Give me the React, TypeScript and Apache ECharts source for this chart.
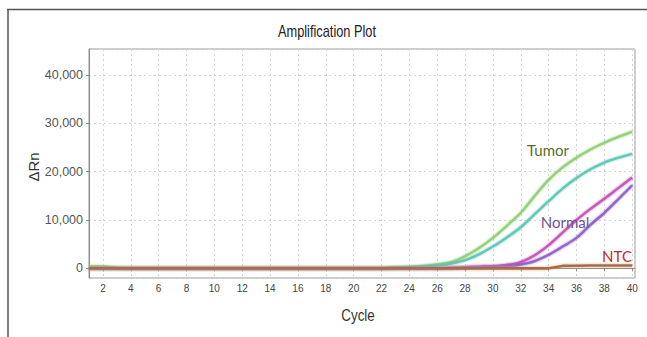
import React, { useEffect, useRef } from "react";
import * as echarts from "echarts";

const cycles = [1, 2, 3, 4, 5, 6, 7, 8, 9, 10, 11, 12, 13, 14, 15, 16, 17, 18, 19, 20, 21, 22, 23, 24, 25, 26, 27, 28, 29, 30, 31, 32, 33, 34, 35, 36, 37, 38, 39, 40];

const tumorA = [400, 400, 100, 0, 0, 0, 0, 0, 0, 0, 0, 0, 0, 0, 0, 0, 0, 0, 0, 0, 0, 0, 200, 300, 500, 800, 1300, 2500, 4200, 6300, 8800, 11500, 15000, 18300, 20900, 22900, 24600, 26000, 27200, 28300];
const tumorB = [0, 0, 0, 0, 0, 0, 0, 0, 0, 0, 0, 0, 0, 0, 0, 0, 0, 0, 0, 0, 0, 0, 100, 200, 350, 600, 1000, 1700, 2900, 4500, 6400, 8500, 11200, 13900, 16500, 18700, 20500, 21900, 22900, 23700];
const normalA = [0, 0, 0, 0, 0, 0, 0, 0, 0, 0, 0, 0, 0, 0, 0, 0, 0, 0, 0, 0, 0, 0, 0, 0, 0, 0, 150, 250, 350, 450, 700, 1300, 2700, 4800, 7400, 10000, 12300, 14400, 16600, 18800];
const normalB = [0, 0, 0, 0, 0, 0, 0, 0, 0, 0, 0, 0, 0, 0, 0, 0, 0, 0, 0, 0, 0, 0, 0, 0, 0, 0, 0, 150, 250, 300, 450, 800, 1500, 2800, 4500, 6300, 9000, 11500, 14300, 17200];
const ntc = [0, 0, 0, 0, 0, 0, 0, 0, 0, 0, 0, 0, 0, 0, 0, 0, 0, 0, 0, 0, 0, 0, 0, 0, 0, 0, 0, 0, 0, 0, 0, 0, 0, 0, 500, 550, 600, 600, 600, 600];

const title = "Amplification Plot";
const xName = "Cycle";
const yName = "ΔRn";
const labels = { tumor: "Tumor", normal: "Normal", ntc: "NTC" };

const pairs = (vals: number[]) => cycles.map((c, i) => [c, vals[i]]);

const SANS = "'Liberation Sans', Arial, sans-serif";
const ANNO = "Lato, 'Open Sans', sans-serif";

export default function App() {
  const ref = useRef<HTMLDivElement>(null);
  useEffect(() => {
    if (!ref.current) return;
    const chart = echarts.init(ref.current, undefined, { renderer: "svg" });
    const lineSeries = (name: string, vals: number[], color: string, smooth: boolean, width = 2.4) => ({
      name,
      type: "line",
      data: pairs(vals),
      smooth: smooth ? 0.3 : false,
      showSymbol: false,
      symbol: "none",
      lineStyle: { color, width, opacity: 0.85, shadowColor: color, shadowBlur: 2 },
      z: 3,
    });
    chart.setOption({
      animation: false,
      backgroundColor: "#ffffff",
      grid: {
        left: 89,
        right: 12,
        top: 49,
        bottom: 59,
        show: true,
        borderColor: "#9a9a9a",
        borderWidth: 1,
        backgroundColor: "transparent",
      },
      xAxis: {
        type: "value",
        min: 1,
        max: 40.2,
        splitNumber: 20,
        axisLine: { show: true, lineStyle: { color: "#8a8a8a", width: 1 } },
        axisTick: { show: true, length: 3, lineStyle: { color: "#8a8a8a" } },
        axisLabel: {
          margin: 5,
          color: "#444",
          fontSize: 10,
          fontFamily: SANS,
          formatter: (v: number) => (Math.abs(v - Math.round(v)) < 1e-6 && Math.round(v) % 2 === 0 ? String(Math.round(v)) : ""),
          showMinLabel: false,
          showMaxLabel: false,
        },
        splitLine: { show: true, lineStyle: { color: "#d4d4d4", type: [2, 3], width: 1 } },
      },
      yAxis: {
        type: "value",
        min: -2000,
        max: 45400,
        splitNumber: 5,
        axisLine: { show: true, lineStyle: { color: "#8a8a8a", width: 1 } },
        axisTick: { show: true, length: 3, lineStyle: { color: "#8a8a8a" } },
        axisLabel: {
          margin: 6,
          color: "#555",
          fontSize: 12.5,
          fontFamily: SANS,
          formatter: (v: number) => (Math.abs(v % 10000) < 1e-6 ? Math.round(v).toLocaleString("en-US") : ""),
          showMinLabel: false,
          showMaxLabel: false,
        },
        splitLine: { show: true, lineStyle: { color: "#d4d4d4", type: [2, 3], width: 1 } },
      },
      series: [
        lineSeries("Tumor A", tumorA, "#8ccf6e", true),
        lineSeries("Tumor B", tumorB, "#5cc4b2", true),
        lineSeries("Normal A", normalA, "#c24fb4", true),
        lineSeries("Normal B", normalB, "#8c5cc4", true),
        {
          name: "NTC",
          type: "line",
          data: pairs(ntc),
          smooth: false,
          showSymbol: false,
          symbol: "none",
          lineStyle: { color: "#a06e58", width: 2.6, shadowColor: "rgba(235,170,90,0.9)", shadowBlur: 3 },
          z: 4,
        },
      ],
      graphic: [
        { type: "line", shape: { x1: 7, y1: 9.5, x2: 647, y2: 9.5 }, style: { stroke: "#555", lineWidth: 1.5 }, silent: true },
        { type: "line", shape: { x1: 8, y1: 9, x2: 8, y2: 337 }, style: { stroke: "#555", lineWidth: 1.5 }, silent: true },
        {
          type: "text",
          x: 327,
          y: 31,
          scaleX: 0.8,
          style: { text: title, fill: "#222", font: `16px ${SANS}`, textAlign: "center", textVerticalAlign: "middle" },
        },
        {
          type: "text",
          x: 33,
          y: 167,
          rotation: Math.PI / 2,
          style: { text: yName, fill: "#333", font: `15px ${SANS}`, textAlign: "center", textVerticalAlign: "middle" },
        },
        {
          type: "text",
          x: 358,
          y: 316,
          scaleX: 0.84,
          style: { text: xName, fill: "#333", font: `16px ${SANS}`, textAlign: "center", textVerticalAlign: "middle" },
        },
        {
          type: "text",
          x: 548,
          y: 150,
          style: { text: labels.tumor, fill: "#5b6e2a", font: `15px ${ANNO}`, textAlign: "center", textVerticalAlign: "middle" },
          z: 10,
        },
        {
          type: "text",
          x: 565,
          y: 222,
          style: { text: labels.normal, fill: "#6a5494", font: `15px ${ANNO}`, textAlign: "center", textVerticalAlign: "middle" },
          z: 10,
        },
        {
          type: "text",
          x: 617,
          y: 256,
          style: { text: labels.ntc, fill: "#c0282a", font: `15px ${ANNO}`, textAlign: "center", textVerticalAlign: "middle" },
          z: 10,
        },
      ],
    });
    return () => chart.dispose();
  }, []);
  return (
    <div
      ref={ref}
      style={{ position: "fixed", left: 0, top: 0, width: 647, height: 337, background: "#fff" }}
    />
  );
}
